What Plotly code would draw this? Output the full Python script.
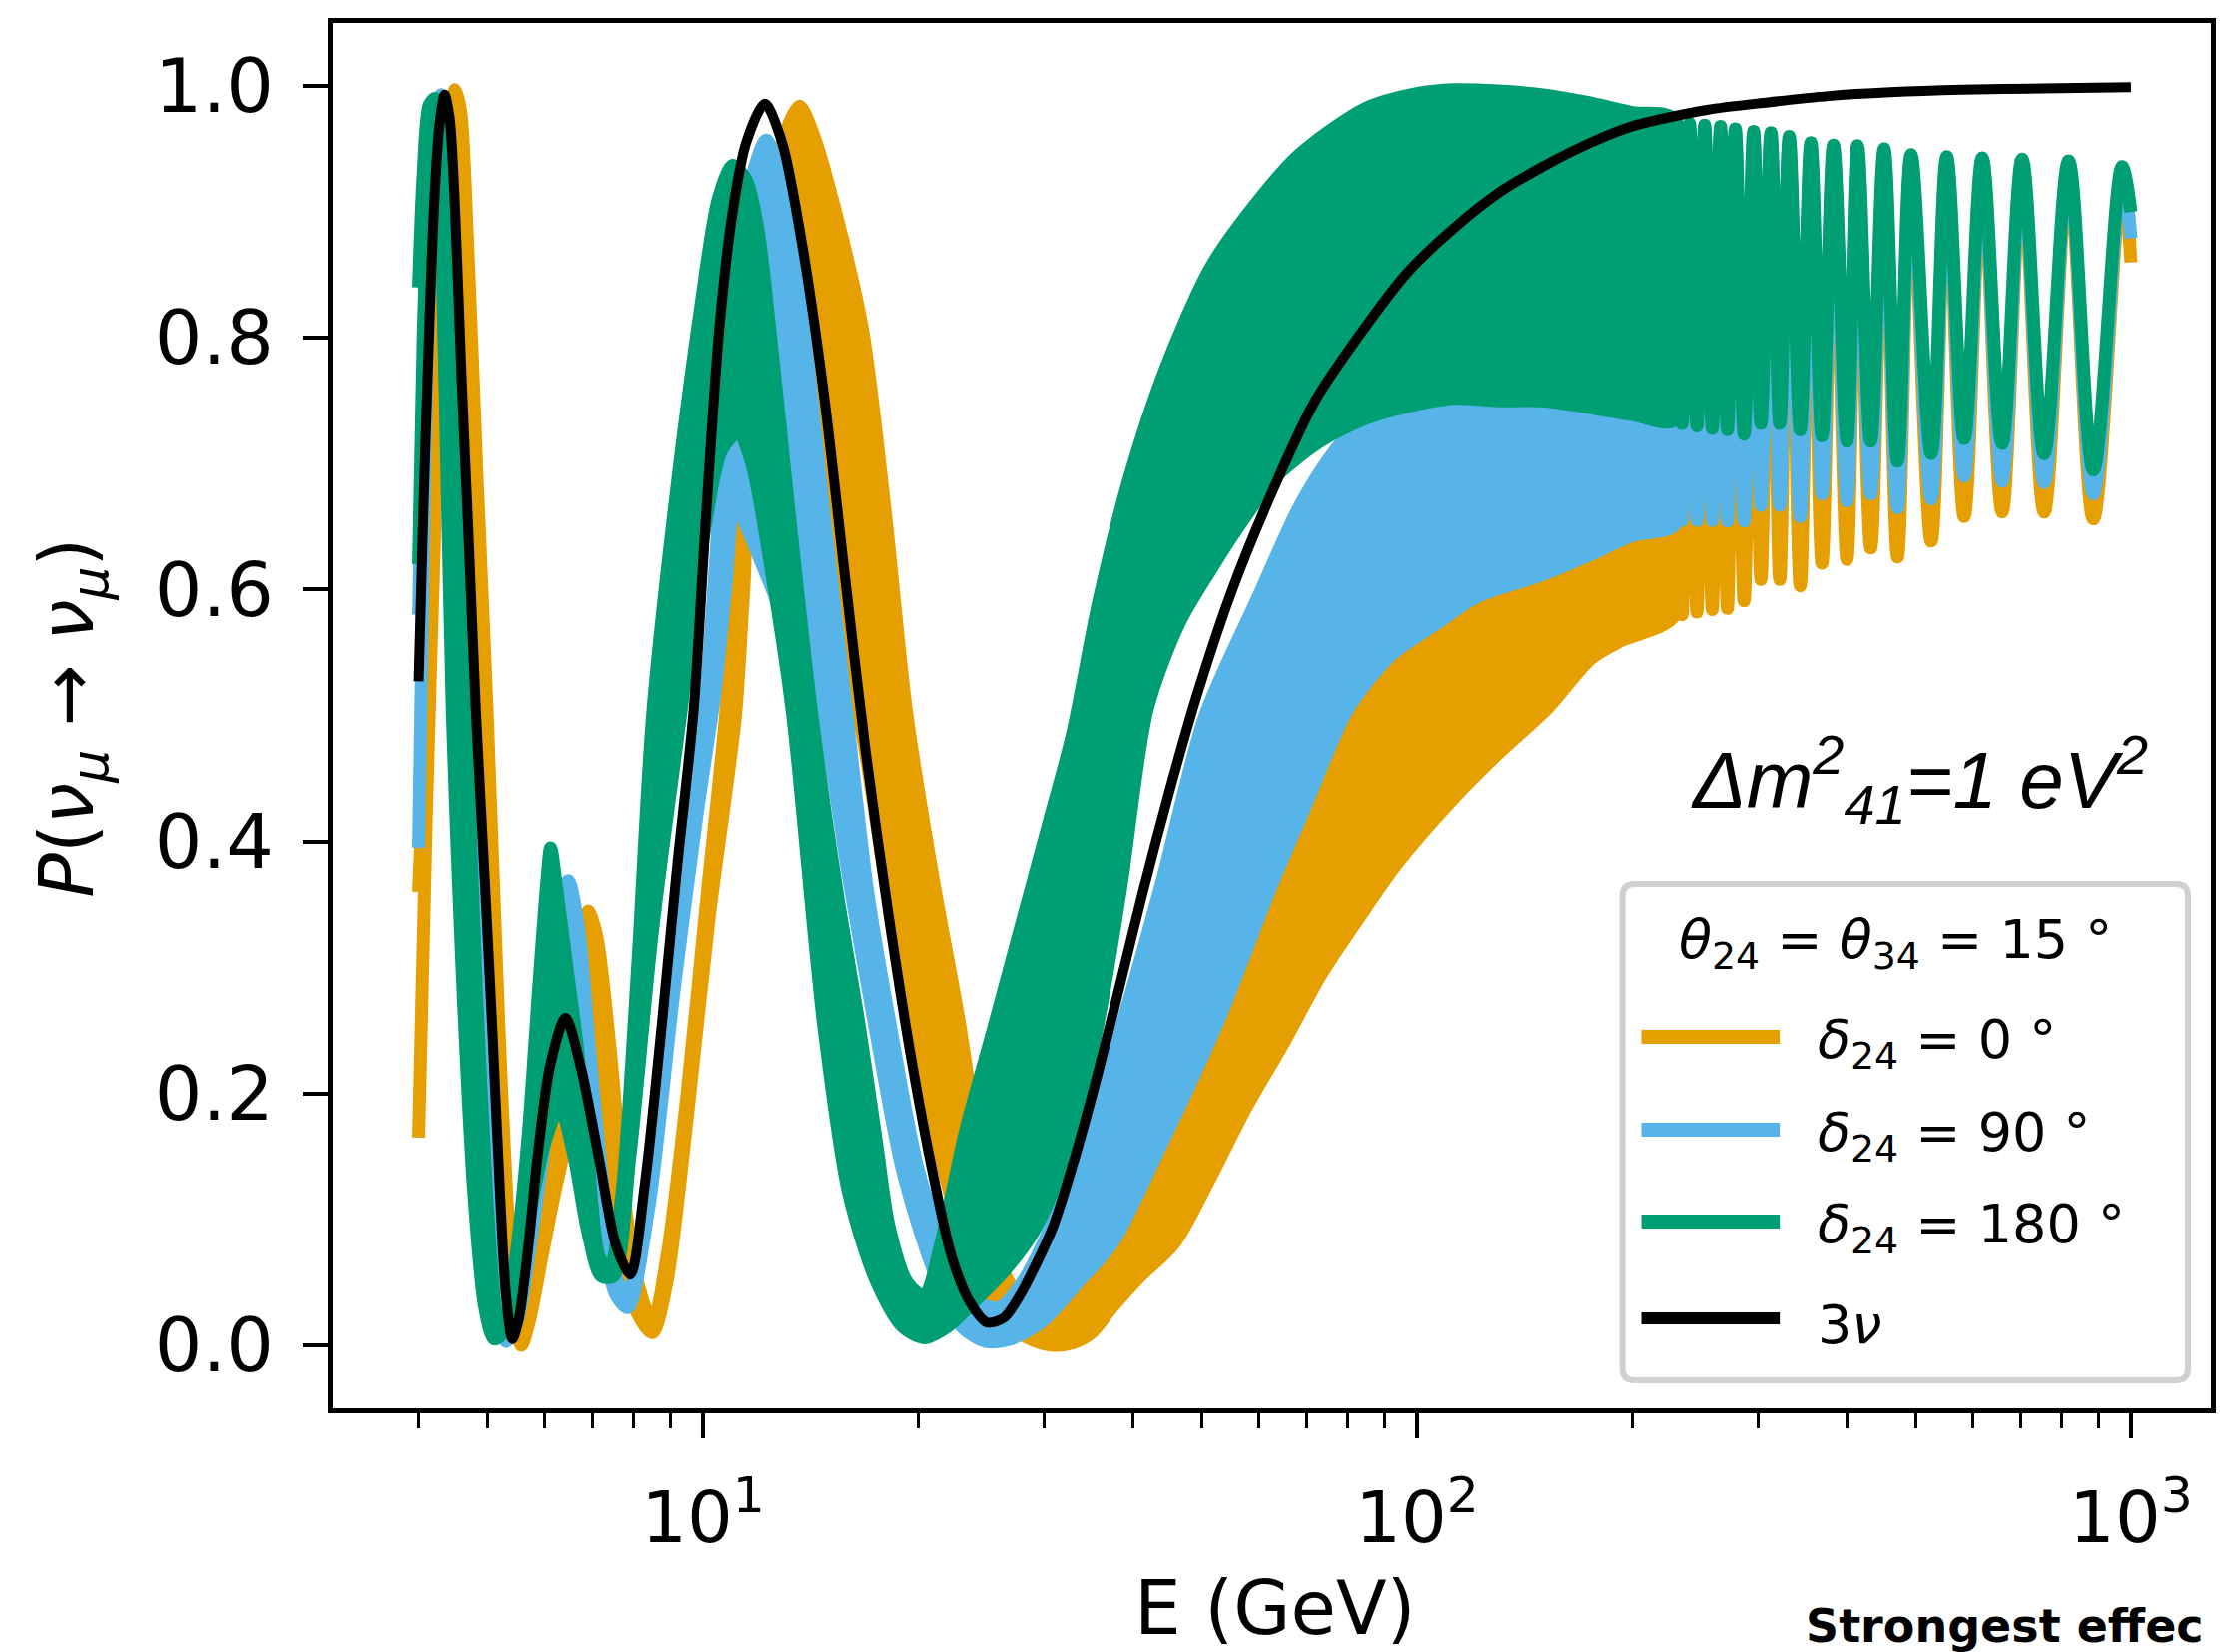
import plotly.graph_objects as go

# ---------------- data ----------------
# 3-flavour curve
E_3nu = [4.0, 4.06, 4.12, 4.2, 4.28, 4.35, 4.42, 4.5, 4.59, 4.7, 4.81, 4.95, 5.07, 5.2, 5.3, 5.41,
         5.52, 5.7, 5.86, 6.1, 6.42, 6.75, 7.16, 7.55, 7.91, 8.3, 8.75, 9.2, 9.7, 10.1, 10.54, 11.0,
         11.49, 12.2, 12.9, 13.8, 14.8, 15.8, 16.9, 18.2, 19.6, 21.0, 22.3, 23.6, 25.0, 26.4, 27.8,
         29.3, 30.9, 33.2, 35.8, 38.5, 41.3, 45.0, 49.1, 55.1, 63.5, 72.0, 84.5, 97.0, 112.6, 130,
         150, 175, 200, 254.5, 310, 377, 460, 580, 750, 1000]
P_3nu = [0.527, 0.66, 0.773, 0.90, 0.97, 0.993, 0.975, 0.90, 0.773, 0.64, 0.504, 0.37, 0.253, 0.12,
         0.04, 0.005, 0.02, 0.08, 0.147, 0.22, 0.26, 0.22, 0.147, 0.08, 0.056, 0.13, 0.253, 0.38,
         0.504, 0.66, 0.808, 0.90, 0.955, 0.986, 0.955, 0.87, 0.75, 0.61, 0.47, 0.34, 0.225, 0.135,
         0.07, 0.035, 0.018, 0.022, 0.04, 0.065, 0.094, 0.15, 0.218, 0.29, 0.36, 0.44, 0.515, 0.60,
         0.685, 0.75, 0.808, 0.852, 0.887, 0.915, 0.936, 0.955, 0.968, 0.981, 0.987, 0.992, 0.995,
         0.997, 0.998, 0.999]

# delta24 = 180 deg : upper / lower envelope of the fast oscillation band
gU_E = [4.0, 4.06, 4.14, 4.22, 4.3, 4.4, 4.52, 4.66, 4.82, 4.98, 5.12, 5.22, 5.35, 5.5, 5.7, 5.9,
        6.05, 6.12, 6.25, 6.45, 6.66, 6.9, 7.16, 7.4, 7.7, 8.1, 8.5, 9.1, 9.9, 10.5, 11.0, 11.5,
        11.9, 12.2, 13.2, 14.2, 15.4, 16.55, 17.5, 18.2, 19.3, 20.4, 21.5, 23.3, 25.6, 28.0, 30.5,
        32.9, 35.8, 39.6, 44.4, 51.3, 59.2, 68.3, 84.6, 100, 112.8, 130, 150, 173, 200, 230]
gU_P = [0.84, 0.93, 0.985, 0.99, 0.975, 0.88, 0.72, 0.50, 0.28, 0.12, 0.03, 0.01, 0.03, 0.08, 0.17,
        0.29, 0.37, 0.395, 0.36, 0.30, 0.24, 0.15, 0.07, 0.06, 0.12, 0.30, 0.50, 0.66, 0.82, 0.91,
        0.937, 0.925, 0.89, 0.844, 0.66, 0.50, 0.36, 0.253, 0.16, 0.095, 0.05, 0.039, 0.08, 0.17,
        0.255, 0.337, 0.415, 0.485, 0.59, 0.69, 0.775, 0.855, 0.905, 0.945, 0.982, 0.994, 0.997,
        0.996, 0.993, 0.987, 0.979, 0.973]
gL_E = [4.0, 4.06, 4.14, 4.2, 4.27, 4.36, 4.46, 4.6, 4.78, 4.95, 5.1, 5.25, 5.45, 5.7, 6.0, 6.3,
        6.6, 6.9, 7.2, 7.5, 7.9, 8.5, 9.3, 10.0, 10.6, 11.2, 11.7, 12.5, 13.35, 14.76, 16.0, 17.5,
        19.0, 20.4, 22.0, 24.0, 26.5, 29.0, 32.4, 35.8, 38.5, 41.9, 46.4, 51.3, 57.5, 63.5, 73.3,
        84.7, 97.7, 112.8, 130, 150, 173, 200, 230]
gL_P = [0.62, 0.80, 0.93, 0.96, 0.93, 0.75, 0.50, 0.30, 0.12, 0.03, 0.005, 0.01, 0.05, 0.10, 0.16,
        0.19, 0.15, 0.09, 0.055, 0.055, 0.15, 0.33, 0.50, 0.64, 0.71, 0.725, 0.70, 0.61, 0.50,
        0.253, 0.12, 0.05, 0.015, 0.006, 0.015, 0.035, 0.06, 0.09, 0.152, 0.258, 0.365, 0.505,
        0.573, 0.615, 0.658, 0.69, 0.718, 0.736, 0.746, 0.752, 0.75, 0.75, 0.745, 0.739, 0.735]

# delta24 = 90 deg
bU_E = [4.0, 4.08, 4.18, 4.3, 4.38, 4.5, 4.65, 4.8, 5.0, 5.15, 5.3, 5.45, 5.7, 6.0, 6.3, 6.48, 6.7,
        6.95, 7.3, 7.6, 7.85, 8.3, 9.0, 9.6, 10.1, 10.7, 11.3, 11.8, 12.26, 12.8, 13.6, 14.7, 15.9,
        17.0, 18.3, 20.0, 22.0, 24.0, 26.0, 28.0, 31.0, 34.5, 38.5, 44.0, 50.5, 60.0, 68.3, 75.5,
        84.0, 100, 150, 200, 230]
bU_P = [0.58, 0.80, 0.95, 0.993, 0.98, 0.85, 0.62, 0.42, 0.20, 0.07, 0.012, 0.03, 0.13, 0.26, 0.35,
        0.369, 0.33, 0.23, 0.11, 0.05, 0.04, 0.12, 0.30, 0.42, 0.52, 0.72, 0.87, 0.935, 0.957, 0.93,
        0.844, 0.67, 0.50, 0.36, 0.253, 0.14, 0.07, 0.035, 0.03, 0.05, 0.10, 0.17, 0.253, 0.37,
        0.50, 0.595, 0.665, 0.705, 0.735, 0.76, 0.77, 0.77, 0.765]
bL_E = [4.0, 4.08, 4.18, 4.28, 4.36, 4.48, 4.62, 4.78, 4.98, 5.15, 5.3, 5.5, 5.8, 6.15, 6.45, 6.8,
        7.2, 7.55, 7.85, 8.4, 9.1, 9.8, 10.4, 10.75, 11.08, 11.5, 12.5, 13.6, 14.66, 16.0, 17.4,
        19.0, 21.0, 23.0, 24.9, 27.0, 30.0, 33.5, 37.4, 43.2, 52.7, 62.0, 70.0, 80.0, 92.0, 106.5,
        121, 150, 175, 200, 230]
bL_P = [0.395, 0.70, 0.90, 0.975, 0.96, 0.82, 0.60, 0.40, 0.18, 0.05, 0.003, 0.02, 0.10, 0.20, 0.25,
        0.19, 0.09, 0.04, 0.03, 0.11, 0.28, 0.42, 0.52, 0.60, 0.67, 0.65, 0.60, 0.55, 0.50, 0.37,
        0.253, 0.14, 0.06, 0.015, 0.003, 0.005, 0.02, 0.05, 0.081, 0.152, 0.258, 0.36, 0.43, 0.505,
        0.548, 0.573, 0.594, 0.612, 0.628, 0.643, 0.652]

# delta24 = 0 deg
oU_E = [4.0, 4.1, 4.22, 4.34, 4.44, 4.5, 4.58, 4.68, 4.82, 4.99, 5.18, 5.35, 5.47, 5.57, 5.72, 5.95,
        6.2, 6.5, 6.7, 6.9, 7.1, 7.4, 7.75, 8.1, 8.5, 8.9, 9.5, 10.1, 10.75, 11.4, 12.2, 12.9, 13.64,
        14.3, 15.1, 16.7, 18.0, 19.25, 21.0, 22.9, 24.2, 25.3, 26.8, 28.5, 30.0, 31.5, 33.0, 36.0,
        40.0, 45.0, 50.0, 60.0, 70.0, 80.0, 100, 150, 200, 230]
oU_P = [0.36, 0.50, 0.70, 0.88, 0.98, 0.997, 0.98, 0.88, 0.70, 0.50, 0.253, 0.09, 0.025, 0.005, 0.03,
        0.09, 0.155, 0.26, 0.325, 0.345, 0.325, 0.24, 0.12, 0.05, 0.018, 0.07, 0.20, 0.35, 0.50,
        0.70, 0.88, 0.955, 0.984, 0.96, 0.914, 0.808, 0.66, 0.504, 0.37, 0.253, 0.16, 0.09, 0.05,
        0.03, 0.022, 0.03, 0.08, 0.15, 0.20, 0.26, 0.32, 0.45, 0.52, 0.56, 0.62, 0.67, 0.70, 0.71]
oL_E = [4.0, 4.1, 4.22, 4.34, 4.44, 4.5, 4.58, 4.68, 4.82, 4.97, 5.15, 5.32, 5.45, 5.57, 5.72, 5.95,
        6.25, 6.6, 6.9, 7.2, 7.6, 8.1, 8.5, 8.9, 9.5, 10.2, 11.1, 11.4, 11.66, 12.1, 13.0, 14.5,
        15.8, 16.5, 18.0, 19.8, 21.5, 23.0, 25.0, 27.0, 29.0, 31.0, 33.0, 35.0, 37.4, 41.0, 45.7,
        51.0, 57.5, 65.0, 73.3, 83.0, 93.6, 112.8, 130, 152.4, 175, 192.4, 230]
oL_P = [0.165, 0.42, 0.66, 0.86, 0.975, 0.985, 0.965, 0.86, 0.68, 0.48, 0.24, 0.08, 0.02, 0.0, 0.02,
        0.07, 0.13, 0.18, 0.19, 0.16, 0.08, 0.025, 0.01, 0.05, 0.18, 0.34, 0.50, 0.60, 0.664, 0.66,
        0.64, 0.59, 0.53, 0.50, 0.37, 0.253, 0.15, 0.09, 0.04, 0.015, 0.004, 0.0, 0.002, 0.01,
        0.03, 0.055, 0.081, 0.13, 0.188, 0.24, 0.294, 0.34, 0.382, 0.435, 0.47, 0.506, 0.545,
        0.559, 0.58]

# resolved oscillations at high energy (alternating maxima / minima, last = end point)
E_osc = [230, 235, 240.7, 246.5, 252.7, 259, 266, 272, 279, 287, 296, 303, 313, 322, 332, 344, 356,
         369, 383, 400, 414, 432, 451, 471, 492, 525, 552, 584, 619, 660, 704, 756, 818, 886, 972,
         1000]
g_osc = [0.973, 0.732, 0.970, 0.730, 0.969, 0.728,
         0.968, 0.727, 0.966, 0.7235, 0.964, 0.732, 0.963, 0.732, 0.960, 0.727, 0.955, 0.722, 0.953,
         0.718, 0.9526, 0.718, 0.950, 0.702, 0.9455, 0.708, 0.944, 0.720, 0.943, 0.716, 0.942, 0.708,
         0.9405, 0.695, 0.936, 0.90]
b_osc = [0.969, 0.655, 0.966, 0.655, 0.965, 0.655,
         0.964, 0.6545, 0.962, 0.6545, 0.960, 0.667, 0.959, 0.667, 0.956, 0.658, 0.951, 0.676, 0.949,
         0.6705, 0.9486, 0.676, 0.946, 0.665, 0.9415, 0.672, 0.940, 0.690, 0.939, 0.686, 0.938, 0.685,
         0.9365, 0.676, 0.932, 0.879]
o_osc = [0.963, 0.580, 0.960, 0.582, 0.959, 0.584,
         0.958, 0.585, 0.956, 0.591, 0.954, 0.608, 0.953, 0.608, 0.950, 0.603, 0.945, 0.621, 0.943,
         0.624, 0.9426, 0.633, 0.940, 0.626, 0.9355, 0.6385, 0.934, 0.658, 0.933, 0.6615, 0.932,
         0.6615, 0.9305, 0.656, 0.926, 0.86]

series_labels = ["<i>δ</i><sub>24</sub> = 0 °", "<i>δ</i><sub>24</sub> = 90 °",
                 "<i>δ</i><sub>24</sub> = 180 °", "3<i>ν</i>"]
legend_title = "<i>θ</i><sub>24</sub> = <i>θ</i><sub>34</sub> = 15 °"
x_tickvals = [10, 100, 1000]
x_ticktext = ["10<sup>1</sup>", "10<sup>2</sup>", "10<sup>3</sup>"]
x_minor = [4, 5, 6, 7, 8, 9, 20, 30, 40, 50, 60, 70, 80, 90, 200, 300, 400, 500, 600, 700, 800, 900]
y_tickvals = [0.0, 0.2, 0.4, 0.6, 0.8, 1.0]
y_ticktext = ["0.0", "0.2", "0.4", "0.6", "0.8", "1.0"]

for a, b in [(E_3nu, P_3nu), (gU_E, gU_P), (gL_E, gL_P), (bU_E, bU_P), (bL_E, bL_P),
             (oU_E, oU_P), (oL_E, oL_P), (E_osc, g_osc), (E_osc, b_osc), (E_osc, o_osc)]:
    assert len(a) == len(b), (len(a), len(b))

# ---------------- figure ----------------
ORANGE, BLUE, GREEN, BLACK = "#E69F00", "#56B4E9", "#009E73", "#000000"
W, H = 2223, 1654
L_M, R_M, T_M, B_M = 333, 4, 23, 244
PW, PH = W - L_M - R_M, H - T_M - B_M


def px(x):
    return (x - L_M) / PW


def py(y):
    return (H - B_M - y) / PH


fig = go.Figure()


def add_band(UE, UP, LE, LP, OE, OP, color):
    fig.add_trace(go.Scatter(
        x=UE + LE[::-1], y=UP + LP[::-1], mode="lines", fill="toself", fillcolor=color,
        line=dict(color=color, width=13, shape="spline", smoothing=0.8),
        hoverinfo="skip", showlegend=False))
    fig.add_trace(go.Scatter(
        x=OE, y=OP, mode="lines",
        line=dict(color=color, width=13, shape="spline", smoothing=1.0),
        hoverinfo="skip", showlegend=False))


add_band(oU_E, oU_P, oL_E, oL_P, E_osc, o_osc, ORANGE)
add_band(bU_E, bU_P, bL_E, bL_P, E_osc, b_osc, BLUE)
add_band(gU_E, gU_P, gL_E, gL_P, E_osc, g_osc, GREEN)
fig.add_trace(go.Scatter(x=E_3nu, y=P_3nu, mode="lines",
                         line=dict(color=BLACK, width=10, shape="spline", smoothing=0.8),
                         hoverinfo="skip", showlegend=False))

axis_common = dict(showgrid=False, zeroline=False, showline=True, linecolor="black", linewidth=5,
                   mirror=True, ticks="outside", ticklen=25, tickwidth=3.5, tickcolor="black")

fig.update_layout(
    width=W, height=H, autosize=False,
    margin=dict(l=L_M, r=R_M, t=T_M, b=B_M),
    paper_bgcolor="white", plot_bgcolor="white",
    showlegend=False,
    xaxis=dict(type="log", range=[0.481, 3.112], tickmode="array", tickvals=x_tickvals,
               ticktext=x_ticktext, ticklabelstandoff=18,
               tickfont=dict(family="DejaVu Sans", size=72, color="black"),
               minor=dict(tickmode="array", tickvals=x_minor, ticks="outside", ticklen=15,
                          tickwidth=3, tickcolor="black", showgrid=False),
               **axis_common),
    yaxis=dict(range=[-0.05, 1.05], tickmode="array", tickvals=y_tickvals, ticktext=y_ticktext,
               ticklabelstandoff=14,
               tickfont=dict(family="DejaVu Sans", size=75, color="black"),
               **axis_common),
)

# axis titles
fig.add_annotation(x=px(1280), y=py(1610), xref="paper", yref="paper", text="E (GeV)",
                   showarrow=False, xanchor="center", yanchor="middle",
                   font=dict(family="DejaVu Sans", size=74, color="black"))
fig.add_annotation(x=px(71), y=py(719), xref="paper", yref="paper",
                   text="<i>P</i>(<i>ν</i><sub><i>μ</i></sub> → <i>ν</i><sub><i>μ</i></sub>)",
                   showarrow=False, textangle=-90, xanchor="center", yanchor="middle",
                   font=dict(family="DejaVu Sans", size=74, color="black"))

# text in the plot
fig.add_annotation(x=px(2158), y=py(780), xref="paper", yref="paper",
                   text="<i>Δm<sup>2</sup><sub>41</sub>=1 eV<sup>2</sup></i>",
                   showarrow=False, xanchor="right", yanchor="middle",
                   font=dict(family="Liberation Sans", size=80, color="black"))

# manual legend (matplotlib-like long line samples)
x0, x1, y0, y1 = px(1628), px(2196), py(1382), py(885)
rx, ry = 12 / PW, 12 / PH
path = (f"M {x0+rx},{y0} L {x1-rx},{y0} Q {x1},{y0} {x1},{y0+ry} L {x1},{y1-ry} "
        f"Q {x1},{y1} {x1-rx},{y1} L {x0+rx},{y1} Q {x0},{y1} {x0},{y1-ry} "
        f"L {x0},{y0+ry} Q {x0},{y0} {x0+rx},{y0} Z")
fig.add_shape(type="path", path=path, xref="paper", yref="paper",
              line=dict(color="#d0d0d0", width=6), fillcolor="rgba(255,255,255,0.85)")
fig.add_annotation(x=px(1902), y=py(944), xref="paper", yref="paper", text=legend_title,
                   showarrow=False, xanchor="center", yanchor="middle",
                   font=dict(family="DejaVu Sans", size=54, color="black"))
entry_y = [1038, 1131, 1223, 1320]
entry_col = [ORANGE, BLUE, GREEN, BLACK]
entry_w = [14, 14, 14, 12]
for yy, col, lw, lab in zip(entry_y, entry_col, entry_w, series_labels):
    fig.add_shape(type="line", xref="paper", yref="paper", x0=px(1647), x1=px(1786),
                  y0=py(yy), y1=py(yy), line=dict(color=col, width=lw))
    fig.add_annotation(x=px(1822), y=py(yy + 6), xref="paper", yref="paper", text=lab,
                       showarrow=False, xanchor="left", yanchor="middle",
                       font=dict(family="DejaVu Sans", size=54, color="black"))

# caption fragment at the bottom right (cut by the page edge in the reference)
fig.add_annotation(x=px(1810), y=py(1628), xref="paper", yref="paper", text="<b>Strongest effec</b>",
                   showarrow=False, xanchor="left", yanchor="middle",
                   font=dict(family="DejaVu Sans", size=46, color="black"))

fig.write_html("out.html", config={"displayModeBar": False},
               post_script="document.body.style.margin='0';document.body.style.overflow='hidden';")
